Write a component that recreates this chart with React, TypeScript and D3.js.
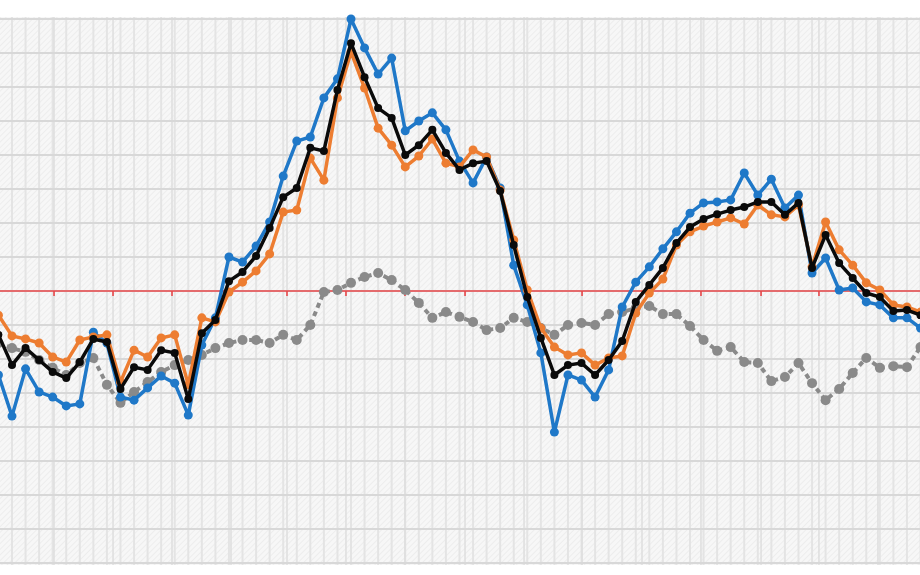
import React from "react";
import * as d3 from "d3";

// x index of each weekly observation (index -1 and 67 sit at the cropped edges)
const weeks: number[] = Array.from({ length: 69 }, (_, k) => k - 1);

const blueSeries: number[] = [
  -24.7, -36.8, -22.9, -29.7, -31.2, -33.8, -33.2, -12.1, -15.3, -31.2,
  -32.1, -28.5, -25.0, -27.1, -36.5, -15.9, -7.9, 10.0, 8.5, 13.2,
  20.3, 33.8, 44.1, 45.3, 56.8, 62.4, 80.0, 71.5, 63.8, 68.5,
  47.1, 50.0, 52.4, 47.4, 38.2, 31.8, 39.4, 30.3, 7.6, -4.1,
  -18.2, -41.5, -24.7, -26.2, -31.2, -23.2, -4.7, 2.6, 7.1, 12.4,
  17.4, 22.9, 25.9, 26.2, 26.8, 34.7, 28.2, 32.9, 24.4, 28.2,
  5.3, 9.7, 0.3, 0.9, -3.2, -4.1, -7.9, -7.9, -10.9,
];

const orangeSeries: number[] = [
  -7.1, -13.2, -14.1, -15.3, -19.4, -20.9, -14.4, -13.5, -12.9, -26.8,
  -17.4, -19.4, -13.8, -12.9, -27.6, -7.9, -9.1, -0.3, 2.6, 5.9,
  10.9, 23.2, 23.8, 39.1, 32.6, 56.8, 70.3, 59.7, 47.9, 42.9,
  36.5, 39.7, 44.7, 37.6, 36.5, 41.5, 39.4, 29.7, 15.0, 0.3,
  -10.9, -16.5, -18.8, -18.2, -21.8, -19.7, -19.1, -6.5, -0.6, 3.5,
  13.5, 17.4, 19.1, 20.3, 21.5, 19.7, 25.3, 22.4, 21.8, 25.3,
  7.1, 20.3, 12.1, 7.6, 2.4, 0.3, -4.1, -4.7, -6.2,
];

const blackSeries: number[] = [
  -12.9, -21.8, -16.8, -20.3, -23.8, -25.6, -20.9, -14.1, -15.0, -28.8,
  -22.4, -23.2, -17.4, -18.2, -31.8, -12.4, -8.5, 2.9, 5.6, 10.3,
  18.5, 27.6, 30.3, 42.1, 41.2, 59.1, 72.9, 62.9, 53.8, 50.9,
  40.0, 42.9, 47.4, 40.6, 35.6, 37.6, 38.2, 29.4, 13.5, -1.8,
  -13.8, -24.7, -21.8, -21.2, -24.7, -20.3, -14.7, -3.2, 1.8, 6.8,
  14.1, 18.8, 21.2, 22.6, 23.8, 24.7, 26.2, 26.2, 22.4, 25.9,
  6.8, 16.5, 8.2, 3.8, -0.6, -1.8, -5.9, -5.6, -7.1,
];

const graySeries: number[] = [
  -15.3, -16.8, -17.9, -20.3, -22.6, -24.7, -21.2, -19.7, -27.6, -32.9,
  -29.7, -26.8, -23.8, -21.8, -20.3, -18.8, -16.8, -15.3, -14.4, -14.4,
  -15.3, -12.9, -14.4, -10.0, -0.3, 0.3, 2.4, 4.1, 5.3, 3.2,
  0.3, -3.5, -7.9, -6.2, -7.6, -9.1, -11.5, -10.9, -7.9, -9.1,
  -10.9, -12.9, -10.0, -9.4, -10.0, -6.8, -6.2, -5.0, -4.4, -6.8,
  -6.8, -10.3, -14.4, -17.6, -16.5, -20.9, -21.2, -26.5, -25.3, -21.2,
  -27.1, -32.1, -28.8, -24.1, -19.7, -22.6, -22.1, -22.4, -16.5,
];

// month boundaries, in week-index units
const monthTicks: number[] = [
  3.1, 7.45, 11.8, 16.15, 20.28, 24.63, 28.98, 33.41, 37.76, 42.04,
  46.46, 50.81, 55.24, 59.51, 63.86,
];

const yGridValues: number[] = [
  -80, -70, -60, -50, -40, -30, -20, -10, 0, 10, 20, 30, 40, 50, 60, 70, 80,
];

const W = 920;
const H = 575;

export default function App() {
  const x = d3.scaleLinear().domain([-1, 67]).range([-1.56, 920.52]);
  const y = d3.scaleLinear().domain([-80, 80]).range([563, 19]);

  const line = d3
    .line<number>()
    .x((_, i) => x(weeks[i]))
    .y((d) => y(d));

  const series = [
    { key: "gray", data: graySeries, color: "#8a8a8a", width: 4, r: 5, dash: "5 4" },
    { key: "blue", data: blueSeries, color: "#1f78c8", width: 3.5, r: 4.5, dash: undefined },
    { key: "orange", data: orangeSeries, color: "#ed7d31", width: 3.5, r: 4.5, dash: undefined },
    { key: "black", data: blackSeries, color: "#0a0a0a", width: 3.5, r: 4, dash: undefined },
  ];

  const plotTop = 17;
  const plotBottom = 565;

  return (
    <svg
      width={W}
      height={H}
      style={{ position: "absolute", left: 0, top: 0, background: "#ffffff" }}
    >
      <defs>
        <pattern id="hatch" width="4" height="4" patternUnits="userSpaceOnUse" patternTransform="rotate(45)">
          <rect width="4" height="4" fill="#f7f7f7" />
          <line x1="0" y1="0" x2="0" y2="4" stroke="#ebebeb" strokeWidth="1.6" />
        </pattern>
        <clipPath id="plotClip">
          <rect x={0} y={0} width={W} height={H} />
        </clipPath>
      </defs>
      <rect x={0} y={0} width={W} height={H} fill="#ffffff" />
      <rect x={0} y={plotTop} width={W} height={plotBottom - plotTop} fill="url(#hatch)" />

      {/* vertical weekly gridlines */}
      {weeks.map((w) => (
        <line
          key={"vw" + w}
          x1={x(w)}
          x2={x(w)}
          y1={plotTop}
          y2={plotBottom}
          stroke="#e4e4e4"
          strokeWidth={2}
        />
      ))}
      {monthTicks.map((t) => (
        <line
          key={"vm" + t}
          x1={x(t)}
          x2={x(t)}
          y1={plotTop}
          y2={plotBottom}
          stroke="#dedede"
          strokeWidth={1.5}
        />
      ))}

      {/* horizontal gridlines */}
      {yGridValues.map((v) => (
        <line
          key={"h" + v}
          x1={0}
          x2={W}
          y1={y(v)}
          y2={y(v)}
          stroke="#d8d8d8"
          strokeWidth={2}
        />
      ))}

      {/* zero axis with month ticks */}
      <line x1={0} x2={W} y1={y(0)} y2={y(0)} stroke="#e8474a" strokeWidth={1.6} />
      {monthTicks.map((t) => (
        <line
          key={"t" + t}
          x1={x(t)}
          x2={x(t)}
          y1={y(0)}
          y2={y(0) + 5}
          stroke="#e8474a"
          strokeWidth={1.6}
        />
      ))}

      <g clipPath="url(#plotClip)">
        {series.map((s) => (
          <g key={s.key}>
            <path
              d={line(s.data) || ""}
              fill="none"
              stroke={s.color}
              strokeWidth={s.width}
              strokeDasharray={s.dash}
              strokeLinejoin="round"
            />
            {s.data.map((v, i) => (
              <circle key={i} cx={x(weeks[i])} cy={y(v)} r={s.r} fill={s.color} />
            ))}
          </g>
        ))}
      </g>
    </svg>
  );
}
